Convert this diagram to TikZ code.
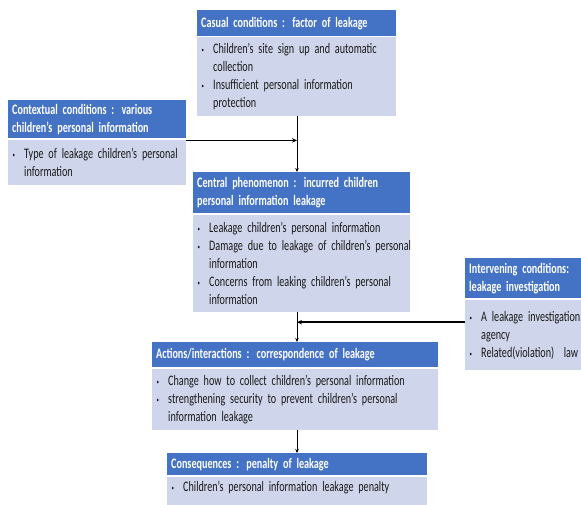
\documentclass[tikz,border=0pt]{standalone}
\usepackage{fontspec}
\setmainfont{Carlito}[FakeStretch=0.70]
\usetikzlibrary{arrows.meta}
\definecolor{hdr}{HTML}{4472C4}
\definecolor{bdy}{HTML}{CFD5EA}
\definecolor{txt}{HTML}{1A1A1A}
\newcommand\bl{\makebox[12pt][l]{\hspace{0.5pt}\raisebox{1pt}{\scriptsize •}}}
\newcommand\ind{\hspace*{12pt}}
\newcommand\lne[1]{\mbox{#1}}
\begin{document}
\begin{tikzpicture}[x=1pt,y=-1pt,
  hd/.style={fill=hdr, text=white, font=\bfseries\fontsize{14.5}{18}\selectfont,
    anchor=north west, inner xsep=4pt, inner ysep=0pt, align=left},
  bd/.style={fill=bdy, text=txt, font=\fontsize{14.5}{18}\selectfont,
    anchor=north west, inner xsep=4pt, inner ysep=0pt, align=left},
  arr/.style={draw=black, line width=1pt, -{Stealth[length=4pt,width=3.5pt]}},
  harr/.style={draw=black, line width=1.6pt, -{Stealth[length=5pt,width=4.5pt]}}]
\useasboundingbox[fill=white] (0,0) rectangle (581,504);
\coordinate (vx) at (297,0);
% Casual conditions
\node[hd, text width=191pt, minimum height=26pt] (h1) at (197,10)
  {\lne{Casual conditions : factor of leakage}};
\node[bd, text width=191pt, minimum height=79pt] (b1) at (197,37)
  {\lne{\bl Children's site sign up and automatic}\\ \lne{\ind collection}\\
   \lne{\bl Insufficient personal information}\\ \lne{\ind protection}};
% Contextual conditions
\node[hd, text width=170pt, minimum height=38pt] (h2) at (8,100)
  {\lne{Contextual conditions : various}\\\lne{children's personal information}};
\node[bd, text width=170pt, minimum height=45pt] (b2) at (8,140)
  {\lne{\bl Type of leakage children's personal}\\ \lne{\ind information}};
% Central phenomenon
\node[hd, text width=209pt, minimum height=41pt] (h3) at (193,172)
  {\lne{Central phenomenon : incurred children}\\\lne{personal information leakage}};
\node[bd, text width=209pt, minimum height=97pt] (b3) at (193,215)
  {\lne{\bl Leakage children's personal information}\\
   \lne{\bl Damage due to leakage of children's personal}\\ \lne{\ind information}\\
   \lne{\bl Concerns from leaking children's personal}\\ \lne{\ind information}};
% Intervening conditions
\node[hd, text width=118pt, minimum height=40pt] (h4) at (465,258)
  {\lne{Intervening conditions:}\\\lne{leakage investigation}};
\node[bd, text width=118pt, minimum height=70pt] (b4) at (465,300)
  {\lne{\bl A leakage investigation}\\ \lne{\ind agency}\\ \lne{\bl Related(violation)\ \ law}};
% Actions/interactions
\node[hd, text width=278pt, minimum height=25pt] (h5) at (152,342)
  {\lne{Actions/interactions : correspondence of leakage}};
\node[bd, text width=278pt, minimum height=61pt] (b5) at (152,369)
  {\lne{\bl Change how to collect children's personal information}\\
   \lne{\bl strengthening security to prevent children's personal}\\ \lne{\ind information leakage}};
% Consequences
\node[hd, text width=252pt, minimum height=22pt] (h6) at (167,453)
  {\lne{Consequences : penalty of leakage}};
\node[bd, text width=252pt, minimum height=40pt, text depth=22pt] (b6) at (167,477)
  {\lne{\bl Children's personal information leakage penalty}};
% connectors
\draw[arr] (b1.south -| vx) -- (h3.north -| vx);
\draw[harr] ([yshift=-2pt]h2.south east) -- ([yshift=-2pt]h2.south east -| vx);
\draw[arr] (b3.south -| vx) -- (h5.north -| vx);
\draw[harr] ([yshift=13pt]b4.west) -- ([yshift=13pt]b4.west -| vx);
\draw[arr] (b5.south -| vx) -- (h6.north -| vx);
\end{tikzpicture}
\end{document}
